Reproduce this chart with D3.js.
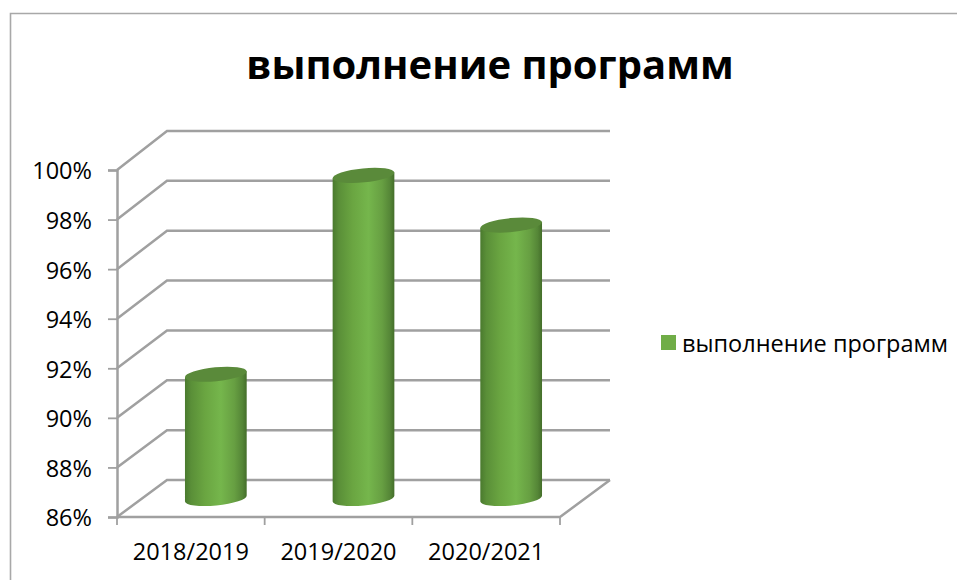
<!DOCTYPE html>
<html>
<head>
<meta charset="utf-8">
<script src="https://cdn.jsdelivr.net/npm/d3@7"></script>
<style>
  html, body { margin: 0; background: #fff; }
  svg { display: block; }
  text { font-family: "Open Sans", sans-serif; fill: #000; }
</style>
</head>
<body>
<div id="chart"></div>
<script>
const titleText = 'выполнение программ';
const seriesName = 'выполнение программ';
const categories = ['2018/2019', '2019/2020', '2020/2021'];
const values = [91, 99, 97];
const yTicks = [86, 88, 90, 92, 94, 96, 98, 100];

const width = 957, height = 580;
const gridColor = '#a0a0a0';
const green = '#70ad47';
const labelSize = 23.5;

const svg = d3.select('#chart').append('svg')
  .attr('width', width)
  .attr('height', height);

// frame of the chart area, runs off the page on the right and bottom
svg.append('path')
  .attr('d', `M10.5,${height}V13.5H${width}`)
  .attr('fill', 'none')
  .attr('stroke', '#a8a8a8')
  .attr('stroke-width', 1.6);

svg.append('text')
  .attr('x', 490).attr('y', 79)
  .attr('text-anchor', 'middle')
  .attr('font-size', 40)
  .attr('font-weight', 700)
  .text(titleText);

// front edge of the box
const x = d3.scaleBand().domain(categories).range([117, 560]);
const y = d3.scaleLinear().domain([86, 100]).range([517, 170]);
// back wall, shifted up and right by the 3d depth
const depthX = 50;
const yBack = d3.scaleLinear().domain([86, 100]).range([480, 131]);
// the bars stand half way into the box
const yMid = v => (y(v) + yBack(v)) / 2;

const grid = svg.append('g')
  .attr('fill', 'none')
  .attr('stroke', gridColor)
  .attr('stroke-width', 2.5);

grid.selectAll('path')
  .data(yTicks)
  .join('path')
  .attr('d', d => `M${x.range()[0]},${y(d)}L${x.range()[0] + depthX},${yBack(d)}H${x.range()[1] + depthX}`);

// floor edges
grid.append('path')
  .attr('d', `M${x.range()[0]},${y(86)}H${x.range()[1]}L${x.range()[1] + depthX},${yBack(86)}`);

// y axis
const yAxis = svg.append('g')
  .attr('transform', `translate(${x.range()[0]},0)`)
  .call(d3.axisLeft(y).tickValues(yTicks).tickFormat(d => d + '%').tickSize(9).tickPadding(16));
yAxis.select('.domain').attr('stroke', gridColor).attr('stroke-width', 2.5);
yAxis.selectAll('.tick line').attr('stroke', gridColor).attr('stroke-width', 1.8);
yAxis.selectAll('text').attr('font-size', labelSize).attr('dy', '0.38em');

// x axis, labels in the band centres and ticks on the band edges
const xAxis = svg.append('g')
  .attr('transform', `translate(0,${y(86)})`)
  .call(d3.axisBottom(x).tickSize(0).tickPadding(26));
xAxis.select('.domain').remove();
xAxis.selectAll('text').attr('font-size', labelSize);
xAxis.selectAll('line.edge')
  .data(d3.range(categories.length + 1))
  .join('line')
  .attr('class', 'edge')
  .attr('x1', i => x.range()[0] + i * x.step())
  .attr('x2', i => x.range()[0] + i * x.step())
  .attr('y1', 0).attr('y2', 8)
  .attr('stroke', gridColor)
  .attr('stroke-width', 1.8);

// cylinder shading
const defs = svg.append('defs');
const grad = defs.append('linearGradient').attr('id', 'cyl');
[[0, '#4a7a2e'], [0.1, '#5a8f38'], [0.32, '#6aa541'], [0.58, '#75b64c'], [0.8, '#679f42'], [0.93, '#558637'], [1, '#446e2a']]
  .forEach(([o, c]) => grad.append('stop').attr('offset', o).attr('stop-color', c));

const rx = 31, ry = 7, tilt = -5.5;
const tipX = rx * Math.cos(tilt * Math.PI / 180);
const tipY = rx * Math.sin(tilt * Math.PI / 180);

const bars = svg.append('g').selectAll('g')
  .data(categories.map((c, i) => ({ c, v: values[i] })))
  .join('g')
  .attr('transform', d => `translate(${x(d.c) + x.bandwidth() / 2 + depthX / 2},0)`);

bars.append('path')
  .attr('fill', 'url(#cyl)')
  .attr('d', d => `M${-tipX},${yMid(d.v) - tipY}`
    + `L${-tipX},${yMid(86) - tipY}`
    + `A${rx},${ry} ${tilt} 0 0 ${tipX},${yMid(86) + tipY}`
    + `L${tipX},${yMid(d.v) + tipY}Z`);

bars.append('ellipse')
  .attr('rx', rx).attr('ry', ry)
  .attr('transform', d => `translate(0,${yMid(d.v)}) rotate(${tilt})`)
  .attr('fill', '#5a8a3a');

// legend
const legend = svg.append('g').attr('transform', 'translate(661,335)');
legend.append('rect').attr('width', 15).attr('height', 15).attr('fill', green);
legend.append('text')
  .attr('x', 21).attr('y', 17)
  .attr('font-size', labelSize)
  .text(seriesName);
</script>
</body>
</html>
